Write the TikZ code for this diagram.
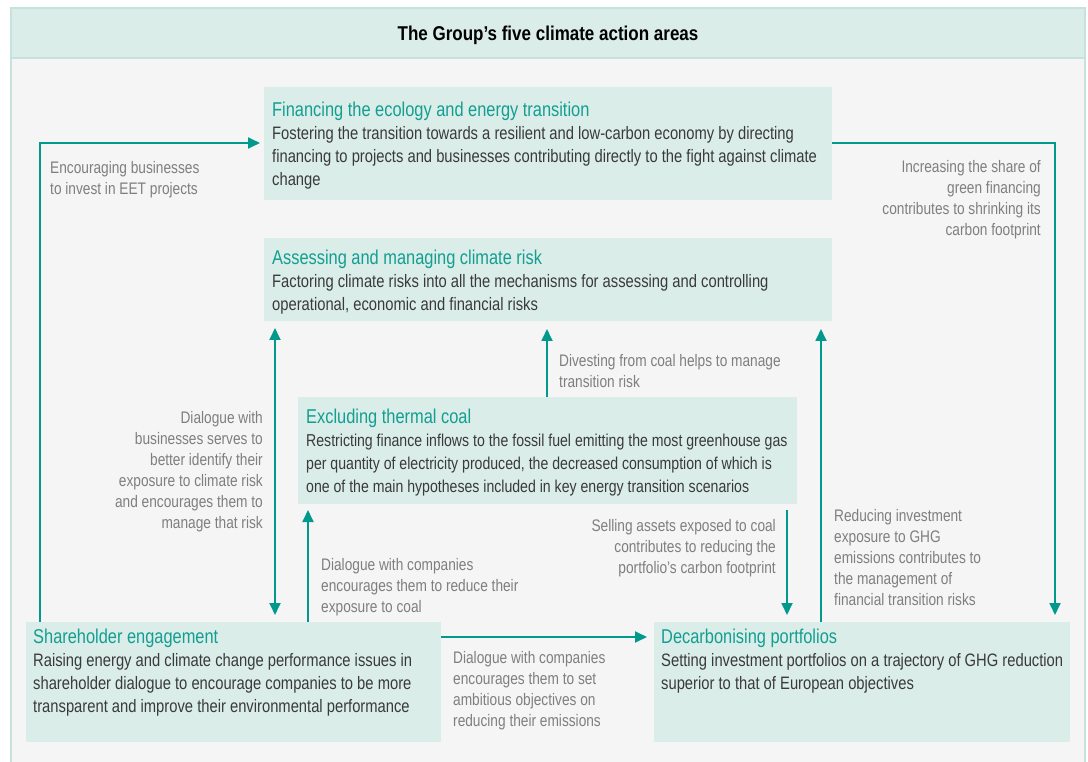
\documentclass[tikz,border=0pt]{standalone}
\usepackage{fontspec}
\setmainfont{Liberation Sans}[FakeStretch=0.82]
\newfontfamily\titlefont{Liberation Sans}[FakeStretch=0.85]
\usetikzlibrary{arrows.meta,calc}
\definecolor{teal1}{HTML}{00998C}
\definecolor{head}{HTML}{149E92}
\definecolor{boxfill}{HTML}{DAEDE8}
\definecolor{bg}{HTML}{F5F5F5}
\definecolor{frame}{HTML}{C5E3DC}
\definecolor{lblgrey}{HTML}{7F7F7F}
\definecolor{bodytext}{HTML}{3A3A3A}
\newcommand{\hd}[1]{{\fontsize{20}{23}\selectfont\textcolor{head}{#1}}}
\begin{document}
\begin{tikzpicture}[x=1pt,y=-1pt,
  box/.style={fill=boxfill, draw=none, anchor=north west, inner sep=0pt, outer sep=0pt},
  txt/.style={anchor=north west, align=left, inner sep=0pt, font=\fontsize{18}{23}\selectfont, text=bodytext},
  lbl/.style={inner sep=0pt, font=\fontsize{16.7}{21}\selectfont, text=lblgrey},
  lbll/.style={lbl, anchor=north west, align=left},
  lblr/.style={lbl, anchor=north east, align=right},
  arr/.style={draw=teal1, line width=1.8pt, -{Triangle[length=12pt,width=11pt]}},
  darr/.style={draw=teal1, line width=1.8pt, {Triangle[length=12pt,width=11pt]}-{Triangle[length=12pt,width=11pt]}},
]
\useasboundingbox (0,0) rectangle (1088,762);
\fill[white] (0,0) rectangle (1088,762);
\draw[fill=bg, draw=frame, line width=2pt] (11,8) rectangle (1085,790);
\draw[fill=boxfill, draw=frame, line width=2pt] (11,8) rectangle (1085,58);
\node[font=\titlefont\bfseries\fontsize{20}{24}\selectfont, text=black, anchor=base, inner sep=0pt] (title) at (548,41) {The Group’s five climate action areas};

% boxes
\node[box, minimum width=568pt, minimum height=113pt] (fin) at (264,87) {};
\node[box, minimum width=568pt, minimum height=83pt] (ass) at (264,238) {};
\node[box, minimum width=499pt, minimum height=107pt] (exc) at (298,397) {};
\node[box, minimum width=415pt, minimum height=120pt] (sh) at (26,622) {};
\node[box, minimum width=416pt, minimum height=120pt] (dec) at (654,622) {};

% box texts
\node[txt] (fint) at (272,100.5) {\strut\hd{Financing the ecology and energy transition}\\
Fostering the transition towards a resilient and low-carbon economy by directing\\
financing to projects and businesses contributing directly to the fight against climate\\
change};
\node[txt] (asst) at (272,248) {\strut\hd{Assessing and managing climate risk}\\
Factoring climate risks into all the mechanisms for assessing and controlling\\
operational, economic and financial risks};
\node[txt, font=\fontsize{17.2}{23}\selectfont] (exct) at (306,407) {\strut\hd{Excluding thermal coal}\\
Restricting finance inflows to the fossil fuel emitting the most greenhouse gas\\
per quantity of electricity produced, the decreased consumption of which is\\
one of the main hypotheses included in key energy transition scenarios};
\node[txt] (sht) at (33,627) {\strut\hd{Shareholder engagement}\\
Raising energy and climate change performance issues in\\
shareholder dialogue to encourage companies to be more\\
transparent and improve their environmental performance};
\node[txt] (dect) at (661,627) {\strut\hd{Decarbonising portfolios}\\
Setting investment portfolios on a trajectory of GHG reduction\\
superior to that of European objectives};

% connectors
\draw[arr, shorten >=4pt] ($(sh.north west)+(14,0)$) |- ($(fin.north west)+(0,56)$);
\draw[arr, shorten >=7pt] ($(fin.north east)+(0,56)$) -| ($(dec.north east)+(-15,0)$);
\draw[darr, shorten <=7pt, shorten >=7pt] ($(ass.south west)+(11,0)$) -- ($(sh.north west)+(249,0)$);
\draw[arr, shorten >=6pt] ($(sh.north west)+(282,0)$) -- ($(exc.south west)+(10,0)$);
\draw[arr, shorten >=8pt] ($(exc.north west)+(249,0)$) -- ($(ass.south west)+(283,0)$);
\draw[arr, shorten <=6pt, shorten >=7pt] ($(exc.south west)+(489,0)$) -- ($(dec.north west)+(133,0)$);
\draw[arr, shorten >=8pt] ($(dec.north west)+(167,0)$) -- ($(ass.south west)+(557,0)$);
\draw[arr, shorten >=7pt] ($(sh.north east)+(0,15)$) -- ($(dec.north west)+(0,15)$);

% labels
\node[lbll] (l1) at (50,158.3) {\strut Encouraging businesses\\to invest in EET projects};
\node[lblr] (l2) at (1041,157.3) {\strut Increasing the share of\\green financing\\contributes to shrinking its\\carbon footprint};
\node[lbll] (l3) at (559,351.3) {\strut Divesting from coal helps to manage\\transition risk};
\node[lblr] (l4) at (263,408.3) {\strut Dialogue with\\businesses serves to\\better identify their\\exposure to climate risk\\and encourages them to\\manage that risk};
\node[lbll] (l5) at (321,555.3) {\strut Dialogue with companies\\encourages them to reduce their\\exposure to coal};
\node[lblr] (l6) at (776,516.3) {\strut Selling assets exposed to coal\\contributes to reducing the\\portfolio’s carbon footprint};
\node[lbll] (l7) at (834,506.3) {\strut Reducing investment\\exposure to GHG\\emissions contributes to\\the management of\\financial transition risks};
\node[lbll] (l8) at (453,648.3) {\strut Dialogue with companies\\encourages them to set\\ambitious objectives on\\reducing their emissions};
\end{tikzpicture}
\end{document}
